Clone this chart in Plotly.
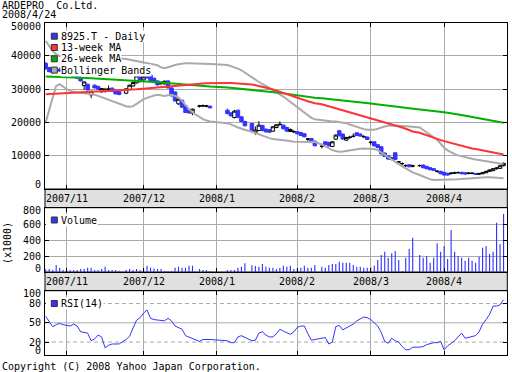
import numpy as np
import plotly.graph_objects as go

# ---------------- data ----------------
trading_days = {
    "2007-10": [24, 25, 26, 29, 30, 31],
    "2007-11": [1, 2, 5, 6, 7, 8, 9, 12, 13, 14, 15, 16, 19, 20, 21, 22, 26, 27, 28, 29, 30],
    "2007-12": [3, 4, 5, 6, 7, 10, 11, 12, 13, 14, 17, 18, 19, 20, 21, 25, 26, 27, 28],
    "2008-01": [4, 7, 8, 9, 10, 11, 15, 16, 17, 18, 21, 22, 23, 24, 25, 28, 29, 30, 31],
    "2008-02": [1, 4, 5, 6, 7, 8, 12, 13, 14, 15, 18, 19, 20, 21, 22, 25, 26, 27, 28, 29],
    "2008-03": [3, 4, 5, 6, 7, 10, 11, 12, 13, 14, 17, 18, 19, 21, 24, 25, 26, 27, 28, 31],
    "2008-04": [1, 2, 3, 4, 7, 8, 9, 10, 11, 14, 15, 16, 17, 18, 21, 22, 23, 24],
}
dates = [f"{m}-{d:02d}" for m, ds in trading_days.items() for d in ds]

open_ = (
    [37800, 36500, 35800, 35400, 36000, 35500]
    + [35800, 35400, 34800, 34000, 33500, 31100, 31500, 28300, 31200, 30800, 29200, 29300, 30000, 30300, 29700, 29400, 28800, 29900, 31000, 31900, 33800]
    + [32800, 34500, 34200, 33300, 32500, 31800, 31600, 32500, 30400, 29200, 25600, 26700, 25000, 23500, 22800, 24900, 25000, 24900, 24900]
    + [23700, 22900, 21500, 23700, 21700, 20300, 19700, 17000, 17600, 19100, 18000, 17800, 17400, 18500, 19400, 19200, 18500, 17300, 17200]
    + [17200, 17000, 16600, 15000, 15200, 14400, 12800, 14200, 14000, 12800, 15000, 17500, 16500, 14700, 15500, 15800, 16900, 16500, 15700, 15600]
    + [14000, 14200, 13300, 12700, 10800, 10000, 8900, 10900, 8100, 7600, 7000, 7300, 6900, 7000, 7200, 6800, 6400, 6100, 5300, 5300]
    + [5000, 4700, 4700, 4800, 4900, 5000, 4900, 4700, 4700, 4700, 4500, 4600, 4900, 5300, 5500, 6100, 6200, 7000]
)
high = (
    [38200, 36800, 36300, 36400, 36500, 36200]
    + [36400, 35900, 35000, 34300, 34700, 32300, 31700, 29500, 31500, 31100, 30400, 30400, 31100, 30600, 29900, 29600, 30300, 31400, 32200, 34300, 34000]
    + [34000, 35500, 36300, 33500, 32700, 32400, 32600, 32700, 30600, 29300, 27300, 26800, 25300, 23800, 24200, 25300, 25400, 25300, 25000]
    + [24200, 23000, 23800, 23800, 21900, 20500, 19900, 18800, 20400, 19300, 18200, 18000, 18900, 19500, 20300, 19400, 18700, 18200, 17700]
    + [17400, 17200, 16800, 15300, 15300, 14500, 13300, 14300, 14200, 14300, 16400, 17800, 16700, 15700, 16000, 16700, 17000, 16700, 16200, 15800]
    + [14300, 14300, 13500, 12900, 11000, 10200, 9600, 11000, 8400, 8000, 7400, 7400, 7300, 7400, 7400, 7000, 6500, 6300, 5600, 5500]
    + [5200, 4900, 5100, 5200, 5300, 5200, 5000, 5100, 5000, 4800, 4900, 5100, 5500, 5900, 6300, 6600, 7300, 8000]
)
low = (
    [35800, 35000, 34600, 35100, 35200, 35100]
    + [35200, 35000, 33500, 33000, 32300, 29800, 29600, 27300, 30200, 29800, 29000, 29000, 29200, 29200, 28400, 28200, 28500, 29700, 30800, 31700, 32000]
    + [32600, 33200, 32400, 31800, 31100, 31200, 31400, 30200, 27800, 26200, 25300, 24300, 22800, 22600, 22200, 24500, 24600, 24600, 24300]
    + [22400, 21800, 21200, 21300, 20000, 18800, 17300, 16300, 17400, 17300, 16900, 16800, 17200, 18300, 19000, 17900, 17200, 17100, 16800]
    + [16400, 15900, 15500, 14300, 13800, 12800, 12200, 13200, 12700, 12600, 14800, 15800, 14800, 14500, 15000, 15500, 15900, 15700, 15300, 14700]
    + [13300, 12700, 12200, 10300, 9600, 8800, 8600, 8700, 7800, 7100, 6600, 6500, 6500, 6700, 6200, 5900, 5600, 5400, 4900, 4400]
    + [4000, 4000, 4300, 4500, 4600, 4400, 4300, 4400, 4400, 4200, 4200, 4400, 4700, 5100, 5400, 5800, 6000, 6800]
)
close = (
    [36200, 35300, 35000, 36000, 35500, 35800]
    + [35400, 35200, 33800, 33300, 32500, 32200, 29800, 29400, 30400, 30000, 30200, 30000, 30050, 29400, 28600, 28400, 30100, 31200, 32000, 34000, 32300]
    + [33700, 33400, 32600, 32000, 31300, 31850, 32400, 30400, 28000, 26500, 27000, 24600, 23000, 22900, 24000, 24950, 25050, 24950, 24400]
    + [22700, 22000, 23400, 21600, 20300, 19000, 17600, 17700, 19200, 17600, 17200, 17100, 18700, 19300, 19450, 18100, 17400, 17900, 17250]
    + [16600, 16100, 15700, 15050, 14000, 13000, 12850, 13400, 13000, 14200, 16200, 16000, 15000, 15500, 15550, 15850, 16100, 15900, 15750, 14900]
    + [14050, 13000, 12500, 10600, 9800, 9000, 9300, 8900, 8150, 7650, 7050, 6700, 6950, 7050, 6400, 6100, 5800, 5600, 5350, 4600]
    + [4200, 4200, 4750, 4850, 4950, 4600, 4500, 4750, 4750, 4400, 4550, 4900, 5300, 5700, 6100, 6300, 7000, 7700]
)
volume_k = (
    [35, 37, 25, 87, 54, 25]
    + [25, 25, 25, 25, 37, 37, 54, 54, 25, 25, 37, 67, 25, 25, 25, 15, 25, 37, 25, 37, 25]
    + [40, 79, 54, 45, 37, 37, 12, 12, 12, 54, 67, 54, 54, 79, 79, 37, 25, 25, 12]
    + [25, 25, 25, 54, 67, 108, 83, 75, 67, 100, 67, 54, 54, 37, 54, 79, 67, 79, 37]
    + [46, 54, 79, 54, 54, 87, 67, 54, 87, 100, 100, 129, 117, 117, 117, 87, 67, 67, 54, 54]
    + [54, 79, 150, 212, 254, 179, 233, 262, 150, 12, 179, 287, 429, 212, 179, 200, 117, 179, 358, 254]
    + [325, 162, 525, 254, 200, 179, 142, 179, 142, 117, 192, 304, 325, 225, 254, 617, 350, 725]
)
rsi14 = (
    [60, 51, 44, 47, 49, 47]
    + [46, 45, 48, 45, 36, 35, 34, 22, 25, 31, 28, 11, 15, 17, 17, 17, 24, 29, 42, 54, 58]
    + [65, 70, 57, 55, 54, 53, 53, 57, 53, 45, 42, 40, 30, 28, 26, 21, 24, 24, 24]
    + [22, 19, 19, 28, 30, 27, 22, 23, 34, 36, 31, 28, 28, 33, 40, 37, 34, 32, 36]
    + [43, 45, 45, 33, 23, 24, 26, 27, 17, 20, 44, 46, 39, 42, 44, 48, 53, 56, 59, 58]
    + [55, 50, 45, 35, 21, 18, 26, 22, 20, 13, 8, 8, 12, 12, 13, 16, 18, 19, 19, 21]
    + [8, 14, 18, 22, 28, 34, 26, 27, 28, 30, 36, 48, 55, 63, 76, 76, 78, 86]
)
ma_13w = (
    [28500, 28550, 28600, 28650, 28700, 28750]
    + [28800, 28850, 28900, 28950, 29000, 29050, 29100, 29150, 29200, 29250, 29300, 29350, 29400, 29450, 29500, 29600, 29700, 29800, 29900, 30000, 30100]
    + [30200, 30300, 30400, 30500, 30600, 30700, 30800, 30900, 31000, 31100, 31200, 31300, 31400, 31500, 31600, 31700, 31750, 31800, 31850]
    + [31900, 31900, 31850, 31800, 31700, 31600, 31400, 31200, 31000, 30800, 30500, 30200, 29900, 29600, 29300, 29000, 28600, 28200, 27800]
    + [27400, 27000, 26700, 26400, 26100, 25800, 25500, 25200, 24900, 24600, 24300, 24000, 23700, 23400, 23100, 22800, 22500, 22200, 21900, 21600]
    + [21300, 21000, 20700, 20400, 20100, 19800, 19500, 19200, 18900, 18500, 18100, 17700, 17300, 16900, 16500, 16100, 15700, 15300, 15000, 14700]
    + [14400, 14100, 13800, 13500, 13200, 12900, 12600, 12400, 12200, 12000, 11800, 11600, 11400, 11200, 11000, 10800, 10600, 10400]
)
ma_26w = (
    [33800, 33780, 33760, 33740, 33720, 33700]
    + [33650, 33600, 33550, 33500, 33450, 33400, 33350, 33300, 33250, 33200, 33150, 33100, 33050, 33000, 32950, 32900, 32800, 32750, 32700, 32650, 32600]
    + [32500, 32400, 32300, 32200, 32100, 32000, 31900, 31800, 31750, 31700, 31600, 31500, 31400, 31300, 31200, 31100, 31000, 30900, 30800]
    + [30500, 30400, 30350, 30300, 30200, 30100, 29950, 29850, 29750, 29650, 29500, 29350, 29200, 29050, 28900, 28750, 28600, 28400, 28200]
    + [28000, 27850, 27750, 27650, 27550, 27450, 27300, 27200, 27100, 27000, 26900, 26800, 26700, 26600, 26500, 26400, 26300, 26150, 26000, 25850]
    + [25700, 25550, 25400, 25250, 25100, 24950, 24800, 24700, 24600, 24500, 24400, 24300, 24200, 24000, 23850, 23700, 23550, 23400, 23300, 23200]
    + [23100, 22950, 22800, 22650, 22450, 22250, 22050, 21850, 21650, 21450, 21250, 21050, 20850, 20650, 20450, 20250, 20100, 19950]
)
bb_upper = (
    [44500, 43000, 41500, 40500, 40000, 39800]
    + [39700, 39600, 39600, 39600, 39700, 39700, 39700, 39600, 39600, 39500, 39500, 39500, 39500, 39400, 39400, 39300, 39100, 38900, 38700, 38500, 38300]
    + [38100, 37900, 37700, 37500, 37200, 36600, 36300, 36600, 37000, 37300, 37500, 37700, 37800, 37800, 37800, 37700, 37700, 37600, 37600]
    + [37300, 37000, 36600, 36200, 35700, 35000, 33500, 32700, 32000, 31500, 31000, 30400, 29800, 29200, 28500, 27800, 27000, 26200, 25300]
    + [24400, 23600, 22800, 22000, 21400, 21000, 20700, 20500, 20400, 20300, 20300, 20200, 20100, 19800, 19400, 19000, 18600, 18300, 18000, 17800]
    + [17700, 17800, 18100, 18500, 18800, 19000, 19100, 19100, 19050, 19000, 18900, 18800, 18700, 18500, 17800, 16900, 16200, 15600, 14800, 13600]
    + [12400, 11600, 11000, 10500, 10100, 9800, 9500, 9300, 9100, 8900, 8700, 8500, 8300, 8100, 7900, 7800, 7700, 7600]
)
bb_lower = (
    [20000, 24000, 27500, 31000, 31500, 30800]
    + [30000, 29500, 29200, 29000, 28900, 28800, 28700, 28500, 28300, 28000, 27600, 27200, 26800, 26400, 26000, 25600, 24900, 24700, 24900, 25600, 26400]
    + [27000, 27400, 27800, 28100, 28300, 28200, 28000, 28200, 28300, 28000, 27500, 26500, 25200, 24000, 23000, 21500, 21000, 20600, 20300]
    + [19800, 19500, 19000, 18500, 18100, 17800, 17200, 16800, 16300, 15900, 15600, 15300, 15000, 14900, 14900, 14800, 14600, 14400, 14200]
    + [14200, 14200, 14200, 14200, 14200, 14100, 13400, 12800, 12200, 11700, 11400, 11200, 11300, 11500, 11700, 11900, 12000, 12100, 12200, 12200]
    + [12200, 12000, 11700, 11000, 10200, 9400, 8700, 8000, 7400, 6800, 6200, 5600, 5000, 4200, 3700, 3300, 2900, 2700, 2700, 2700]
    + [2700, 2700, 2700, 2800, 2900, 3000, 3100, 3200, 3200, 3300, 3300, 3400, 3500, 3500, 3500, 3400, 3300, 3200]
)

month_starts = ["2007-11-01", "2007-12-01", "2008-01-01", "2008-02-01", "2008-03-01", "2008-04-01"]
month_labels = ["2007/11", "2007/12", "2008/1", "2008/2", "2008/3", "2008/4"]
price_ticks = [0, 10000, 20000, 30000, 40000, 50000]
volume_ticks = [0, 200, 400, 600, 800]
rsi_ticks = [0, 20, 50, 80, 100]
rsi_guides_dashed = [20, 80]
rsi_guides_solid = [50]

title_lines = ["ARDEPRO\u00a0 Co.Ltd.", "2008/4/24"]
price_legend = ["8925.T - Daily", "13-week MA", "26-week MA", "Bollinger Bands"]
copyright_text = "Copyright (C) 2008 Yahoo Japan Corporation."

# ---------------- styling ----------------
W, H = 512, 372
FONT = "DejaVu Sans Mono"
BLUE = "#3333ff"
RED = "#ff3333"
GREEN = "#00b000"
GRAY = "#aaaaaa"
GRID = "#aaaaaa"
BAND = "#e0e0e0"

PL, PR = 45.0, 507.3
MAIN = (22.7, 189.0)
VOL = (207.7, 272.0)
RSI = (290.7, 354.9)


def fx(p):
    return p / W


def fy(p):
    return 1 - p / H


def dom_y(box):
    return [fy(box[1]), fy(box[0])]


# slot position: one slot per weekday (holidays stay as empty slots)
base = np.datetime64("2007-11-01")
xpos = np.busday_count(base, np.array(dates, dtype="datetime64[D]"))
month_x = np.busday_count(base, np.array(month_starts, dtype="datetime64[D]"))
XRANGE = [-6.2, 126.07]

fig = go.Figure()

fig.add_trace(go.Scatter(x=xpos, y=bb_upper, mode="lines", line=dict(color=GRAY, width=2),
                         xaxis="x", yaxis="y", hoverinfo="skip", showlegend=False))
fig.add_trace(go.Scatter(x=xpos, y=bb_lower, mode="lines", line=dict(color=GRAY, width=2),
                         xaxis="x", yaxis="y", hoverinfo="skip", showlegend=False))
fig.add_trace(go.Scatter(x=xpos, y=ma_26w, mode="lines", line=dict(color=GREEN, width=2),
                         xaxis="x", yaxis="y", hoverinfo="skip", showlegend=False))
fig.add_trace(go.Scatter(x=xpos, y=ma_13w, mode="lines", line=dict(color=RED, width=2),
                         xaxis="x", yaxis="y", hoverinfo="skip", showlegend=False))
fig.add_trace(go.Candlestick(
    x=xpos, open=open_, high=high, low=low, close=close, xaxis="x", yaxis="y",
    increasing=dict(line=dict(color="black", width=1), fillcolor="white"),
    decreasing=dict(line=dict(color=BLUE, width=1), fillcolor=BLUE),
    whiskerwidth=0, hoverinfo="skip", showlegend=False))

fig.add_trace(go.Bar(x=xpos, y=volume_k, width=0.32, marker=dict(color=BLUE, line=dict(width=0)),
                     xaxis="x2", yaxis="y2", hoverinfo="skip", showlegend=False))

fig.add_trace(go.Scatter(x=xpos, y=rsi14, mode="lines", line=dict(color=BLUE, width=1),
                         xaxis="x3", yaxis="y3", hoverinfo="skip", showlegend=False))

common_x = dict(range=XRANGE, tickvals=month_x, showticklabels=False, showgrid=True,
                gridcolor=GRID, gridwidth=1, zeroline=False, showline=True, linecolor="black",
                linewidth=1, mirror="ticks", ticks="inside", ticklen=4, tickcolor="black",
                fixedrange=True, domain=[fx(PL), fx(PR)])
common_y = dict(showticklabels=False, showgrid=True, gridcolor=GRID, gridwidth=1,
                zeroline=False, showline=True, linecolor="black", linewidth=1,
                mirror="ticks", ticks="inside", ticklen=4, tickcolor="black", fixedrange=True)

shapes = []
annotations = []

# grey date bands between panels
for top, bottom in [(MAIN[1], VOL[0]), (VOL[1], RSI[0])]:
    shapes.append(dict(type="rect", xref="paper", yref="paper", x0=fx(PL), x1=fx(PR),
                       y0=fy(bottom), y1=fy(top), fillcolor=BAND,
                       line=dict(color="black", width=1), layer="below"))
    for mx, lab in zip(month_x, month_labels):
        annotations.append(dict(text=lab, xref="x", x=mx, yref="paper", y=fy((top + bottom) / 2),
                                xanchor="center", yanchor="middle", showarrow=False,
                                font=dict(family=FONT, size=10, color="black")))

# RSI guide lines
for g in rsi_guides_dashed:
    shapes.append(dict(type="line", xref="paper", x0=fx(PL), x1=fx(PR), yref="y3", y0=g, y1=g,
                       line=dict(color=GRID, width=1, dash="4px,3px"), layer="below"))
for g in rsi_guides_solid:
    shapes.append(dict(type="line", xref="paper", x0=fx(PL), x1=fx(PR), yref="y3", y0=g, y1=g,
                       line=dict(color=GRID, width=1), layer="below"))


# y tick labels
def ylabels(ticks, yref, first_shift, last_shift):
    for i, v in enumerate(ticks):
        shift = first_shift if i == 0 else (last_shift if i == len(ticks) - 1 else 0)
        annotations.append(dict(text=str(v), xref="paper", x=fx(PL), xshift=-2.5, xanchor="right",
                                yref=yref, y=v, yshift=shift, yanchor="middle", showarrow=False,
                                font=dict(family=FONT, size=10, color="black")))


ylabels(price_ticks, "y", 5, -3.5)
ylabels(volume_ticks, "y2", 4, -2)
ylabels(rsi_ticks, "y3", 4.5, -2.8)

annotations.append(dict(text="(x1000)", xref="paper", x=fx(7), yref="paper", y=fy(243),
                        textangle=-90, xanchor="center", yanchor="middle", showarrow=False,
                        font=dict(family=FONT, size=10, color="black")))


def legend_item(text, color, ycenter, cover_left=False):
    if cover_left:
        shapes.append(dict(type="rect", xref="paper", yref="paper", x0=fx(PL + 0.8), x1=fx(60.5),
                           y0=fy(ycenter + 6), y1=fy(ycenter - 6), fillcolor="white",
                           line=dict(width=0), layer="above"))
    shapes.append(dict(type="rect", xref="paper", yref="paper", x0=fx(51.3), x1=fx(57.3),
                       y0=fy(ycenter + 3), y1=fy(ycenter - 3), fillcolor=color,
                       line=dict(color="#333333", width=1), layer="above"))
    annotations.append(dict(text=text, xref="paper", x=fx(60), xanchor="left", yref="paper",
                            y=fy(ycenter), yanchor="middle", showarrow=False, bgcolor="white",
                            borderpad=0, font=dict(family=FONT, size=10, color="black")))


for i, (txt, col) in enumerate(zip(price_legend, [BLUE, RED, GREEN, GRAY])):
    legend_item(txt, col, 36.2 + 11.3 * i)
legend_item("Volume", BLUE, 220.0, cover_left=True)
legend_item("RSI(14)", BLUE, 303.5, cover_left=True)

# title and copyright
for txt, yc in zip(title_lines, [5.5, 14.5]):
    annotations.append(dict(text=txt, xref="paper", x=0, xanchor="left", yref="paper", y=fy(yc),
                            yanchor="middle", showarrow=False,
                            font=dict(family=FONT, size=10, color="black")))
annotations.append(dict(text=copyright_text, xref="paper", x=0, xanchor="left", yref="paper",
                        y=fy(366), yanchor="middle", showarrow=False,
                        font=dict(family=FONT, size=10, color="black")))

fig.update_layout(
    width=W, height=H, margin=dict(l=0, r=0, t=0, b=0),
    paper_bgcolor="white", plot_bgcolor="white", showlegend=False,
    boxgap=0.0, boxgroupgap=0,
    xaxis=dict(common_x, anchor="y", rangeslider=dict(visible=False)),
    xaxis2=dict(common_x, anchor="y2", matches="x"),
    xaxis3=dict(common_x, anchor="y3", matches="x"),
    yaxis=dict(common_y, domain=dom_y(MAIN), range=[0, 50000], tickvals=price_ticks, anchor="x"),
    yaxis2=dict(common_y, domain=dom_y(VOL), range=[0, 804], tickvals=volume_ticks, anchor="x2"),
    yaxis3=dict(common_y, domain=dom_y(RSI), range=[0, 100], tickvals=rsi_ticks, anchor="x3",
                showgrid=False),
    shapes=shapes, annotations=annotations,
    font=dict(family=FONT, size=10, color="black"),
)

fig.write_html("out.html", config={"displayModeBar": False, "staticPlot": True},
               post_script="document.body.style.margin='0';document.body.style.overflow='hidden';")
